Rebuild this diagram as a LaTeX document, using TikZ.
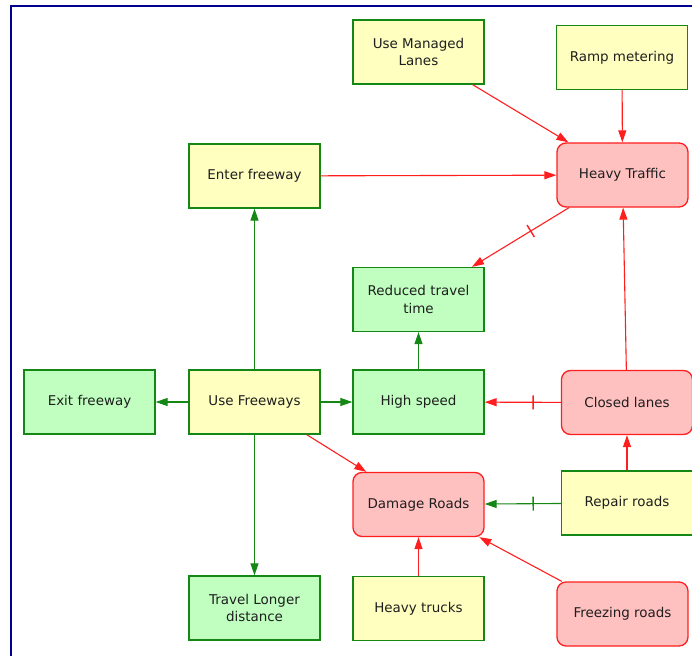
\documentclass[tikz,border=0pt]{standalone}
\usepackage{fontspec}
\setmainfont{DejaVu Sans}
\usetikzlibrary{arrows.meta,calc}

\definecolor{frameblue}{RGB}{0,0,140}
\definecolor{boxyellow}{RGB}{255,255,192}
\definecolor{boxgreen}{RGB}{192,255,192}
\definecolor{boxred}{RGB}{255,192,192}
\definecolor{edgegreen}{RGB}{20,135,20}
\definecolor{edgered}{RGB}{255,30,30}
\definecolor{labeltext}{RGB}{30,30,30}

\tikzset{
  box/.style={rectangle, minimum width=131bp, minimum height=64bp, inner sep=2bp,
    align=center, text=labeltext, line width=1.3bp,
    font=\fontsize{13.5}{18}\selectfont},
  action/.style={box, draw=edgegreen, fill=boxyellow},
  good/.style={box, draw=edgegreen, fill=boxgreen},
  bad/.style={box, draw=edgered, fill=boxred, rounded corners=9bp},
  poslink/.style={draw=edgegreen, line width=1.1bp, -{Triangle[length=12bp,width=8bp]}},
  neglink/.style={draw=edgered, line width=1.1bp, -{Triangle[length=12bp,width=8bp]}},
  gtick/.style={draw=edgegreen, line width=1.4bp},
  rtick/.style={draw=edgered, line width=1.4bp},
}

\begin{document}
\begin{tikzpicture}[x=1bp, y=-1bp]
  \useasboundingbox (0,0) rectangle (692,656);
  % frame along the left and top edges
  \draw[frameblue, line width=2bp] (11,660) -- (11,6) -- (700,6);

  % nodes
  \node[action] (uml)      at (418.5,52)   {Use Managed\\Lanes};
  \node[action] (ramp)     at (622,57.5)   {Ramp metering};
  \node[bad]    (heavy)    at (622.5,175)  {Heavy Traffic};
  \node[action] (enter)    at (254.5,176)  {Enter freeway};
  \node[good]   (reduced)  at (418.5,299.5){Reduced travel\\time};
  \node[good]   (exitf)    at (89.5,402)   {Exit freeway};
  \node[action] (usefw)    at (254.5,402)  {Use Freeways};
  \node[good]   (high)     at (418.5,402)  {High speed};
  \node[bad]    (closed)   at (627,402.5)  {Closed lanes};
  \node[bad]    (damage)   at (418.5,504.5){Damage Roads};
  \node[action] (repair)   at (627,503)    {Repair roads};
  \node[good]   (travel)   at (254.5,608)  {Travel Longer\\distance};
  \node[action] (trucks)   at (418.5,608.5){Heavy trucks};
  \node[bad]    (freezing) at (622.5,614)  {Freezing roads};

  % positive links
  \draw[poslink] (usefw) -- (enter);
  \draw[poslink] (usefw) -- (exitf);
  \draw[poslink] (usefw) -- (high);
  \draw[poslink] (usefw) -- (travel);
  \draw[poslink] (high) -- (reduced);
  \draw[poslink] (repair) -- (damage);

  \draw[neglink] (uml) -- (heavy);
  \draw[neglink] (ramp) -- (heavy);
  \draw[neglink] (enter) -- (heavy);
  \draw[neglink] (heavy) -- (reduced);
  \draw[neglink] (closed) -- (heavy);
  \draw[neglink] (closed) -- (high);
  \draw[neglink] (repair) -- (closed);
  \draw[neglink] (usefw) -- (damage);
  \draw[neglink] (trucks) -- (damage);
  \draw[neglink] (freezing) -- (damage);

  % cross marks on the opposing links
  \coordinate (t1) at ($(heavy)!0.45!(reduced)$);
  \draw[rtick] ($(t1)!7bp!90:(reduced)$) -- ($(t1)!7bp!-90:(reduced)$);
  \coordinate (t2) at ($(closed)!0.45!(high)$);
  \draw[rtick] ($(t2)!7bp!90:(high)$) -- ($(t2)!7bp!-90:(high)$);
  \coordinate (t3) at ($(repair)!0.45!(damage)$);
  \draw[gtick] ($(t3)!7bp!90:(damage)$) -- ($(t3)!7bp!-90:(damage)$);
\end{tikzpicture}
\end{document}
